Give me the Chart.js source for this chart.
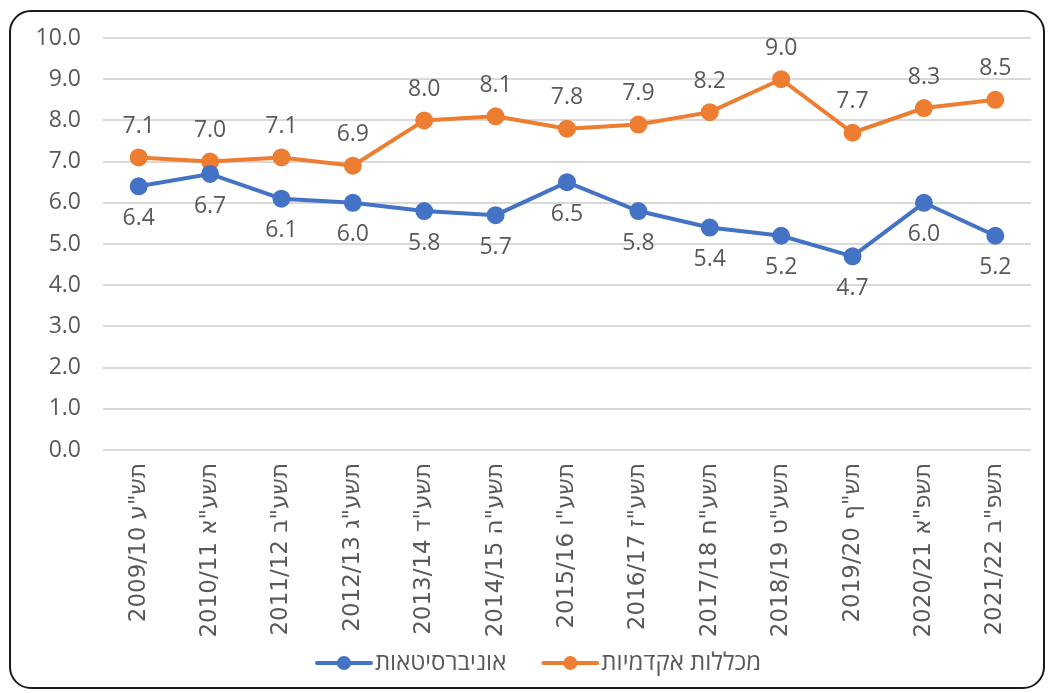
<!DOCTYPE html>
<html>
<head>
<meta charset="utf-8">
<script src="https://cdn.jsdelivr.net/npm/chart.js@4"></script>
<style>
  html, body { margin: 0; padding: 0; background: #fff; }
  #wrap { position: relative; width: 1048px; height: 693px; }
  #frame {
    position: absolute; left: 9px; top: 10px; width: 1036px; height: 679px;
    border: 2px solid #1a1a1a; border-radius: 22px; box-sizing: border-box;
  }
  canvas { position: absolute; left: 0; top: 0; }
</style>
</head>
<body>
<div id="wrap">
  <div id="frame"></div>
  <canvas id="c" width="1048" height="693"></canvas>
</div>
<script>
// ---- data ----
const YEARS = ['2009/10','2010/11','2011/12','2012/13','2013/14','2014/15','2015/16',
               '2016/17','2017/18','2018/19','2019/20','2020/21','2021/22'];
const HEB_YEARS = ['תש"ע','תשע"א','תשע"ב','תשע"ג','תשע"ד','תשע"ה','תשע"ו',
                   'תשע"ז','תשע"ח','תשע"ט','תש"ף','תשפ"א','תשפ"ב'];
const UNIVERSITIES = [6.4, 6.7, 6.1, 6.0, 5.8, 5.7, 6.5, 5.8, 5.4, 5.2, 4.7, 6.0, 5.2];
const COLLEGES     = [7.1, 7.0, 7.1, 6.9, 8.0, 8.1, 7.8, 7.9, 8.2, 9.0, 7.7, 8.3, 8.5];
const Y_TICKS = [0, 1, 2, 3, 4, 5, 6, 7, 8, 9, 10];

const BLUE   = '#4472C4';
const ORANGE = '#ED7D31';
const GREY   = '#595959';
const FONT   = "'Open Sans', 'DejaVu Sans', sans-serif";

const labels = YEARS.map((y, i) => y + ' ' + HEB_YEARS[i]);

// legend marker: short line with a dot, like Excel.
// image is wider than the legend box so the marker sits right against the text
const MARK_BOX = 73;
const MARK_IMG = 93;
function legendMarker(color) {
  const c = document.createElement('canvas');
  c.width = MARK_IMG; c.height = 16;
  const g = c.getContext('2d');
  const x0 = MARK_IMG - 58;
  g.strokeStyle = color; g.lineWidth = 4; g.lineCap = 'round';
  g.beginPath(); g.moveTo(x0 + 2, 8); g.lineTo(x0 + 56, 8); g.stroke();
  g.fillStyle = color;
  g.beginPath(); g.arc(x0 + 29, 8, 7, 0, Math.PI * 2); g.fill();
  return c;
}

// value labels above (colleges) / below (universities)
const valueLabels = {
  id: 'valueLabels',
  afterDatasetsDraw(chart) {
    const ctx = chart.ctx;
    ctx.save();
    ctx.font = '23px ' + FONT;
    ctx.fillStyle = GREY;
    ctx.textAlign = 'center';
    ctx.textBaseline = 'middle';
    chart.data.datasets.forEach((ds, di) => {
      const meta = chart.getDatasetMeta(di);
      const off = ds.labelSide === 'above' ? -31 : 32;
      meta.data.forEach((pt, i) => {
        ctx.fillText(ds.data[i].toFixed(1), pt.x, pt.y + off);
      });
    });
    ctx.restore();
  }
};

new Chart(document.getElementById('c').getContext('2d'), {
  type: 'line',
  data: {
    labels,
    datasets: [
      {
        label: 'אוניברסיטאות',
        data: UNIVERSITIES,
        borderColor: BLUE, backgroundColor: BLUE,
        borderWidth: 4, pointRadius: 7, pointHoverRadius: 7,
        tension: 0, labelSide: 'below',
      },
      {
        label: 'מכללות אקדמיות',
        data: COLLEGES,
        borderColor: ORANGE, backgroundColor: ORANGE,
        borderWidth: 4, pointRadius: 7, pointHoverRadius: 7,
        tension: 0, labelSide: 'above',
      },
    ],
  },
  options: {
    responsive: false,
    animation: false,
    layout: { padding: { left: 20, right: 17, top: 38, bottom: 8 } },
    plugins: {
      tooltip: { enabled: false },
      legend: {
        position: 'bottom',
        labels: {
          font: { size: 24, family: FONT },
          color: GREY,
          usePointStyle: true,
          pointStyleWidth: MARK_BOX,
          padding: 10,
          generateLabels: chart => chart.data.datasets.map((ds, i) => ({
            text: ds.label,
            fillStyle: ds.borderColor,
            strokeStyle: ds.borderColor,
            pointStyle: legendMarker(ds.borderColor),
            fontColor: GREY,
            datasetIndex: i,
            hidden: false,
          })),
        },
      },
    },
    scales: {
      x: {
        offset: true,
        grid: { display: false },
        border: { display: false },
        ticks: {
          minRotation: 90, maxRotation: 90, autoSkip: false,
          font: { size: 23, family: "'DejaVu Sans', sans-serif" },
          color: GREY, padding: 5,
        },
        afterFit: s => { s.height = 191; },
      },
      y: {
        min: 0, max: 10,
        afterBuildTicks: s => { s.ticks = Y_TICKS.map(v => ({ value: v })); },
        grid: { color: '#D9D9D9', lineWidth: 2, drawTicks: false },
        border: { display: false },
        ticks: {
          font: { size: 23, family: FONT },
          color: GREY, padding: 22,
          callback: v => Number(v).toFixed(1),
        },
        afterFit: s => { s.width = 83; },
      },
    },
  },
  plugins: [valueLabels],
});
</script>
</body>
</html>
